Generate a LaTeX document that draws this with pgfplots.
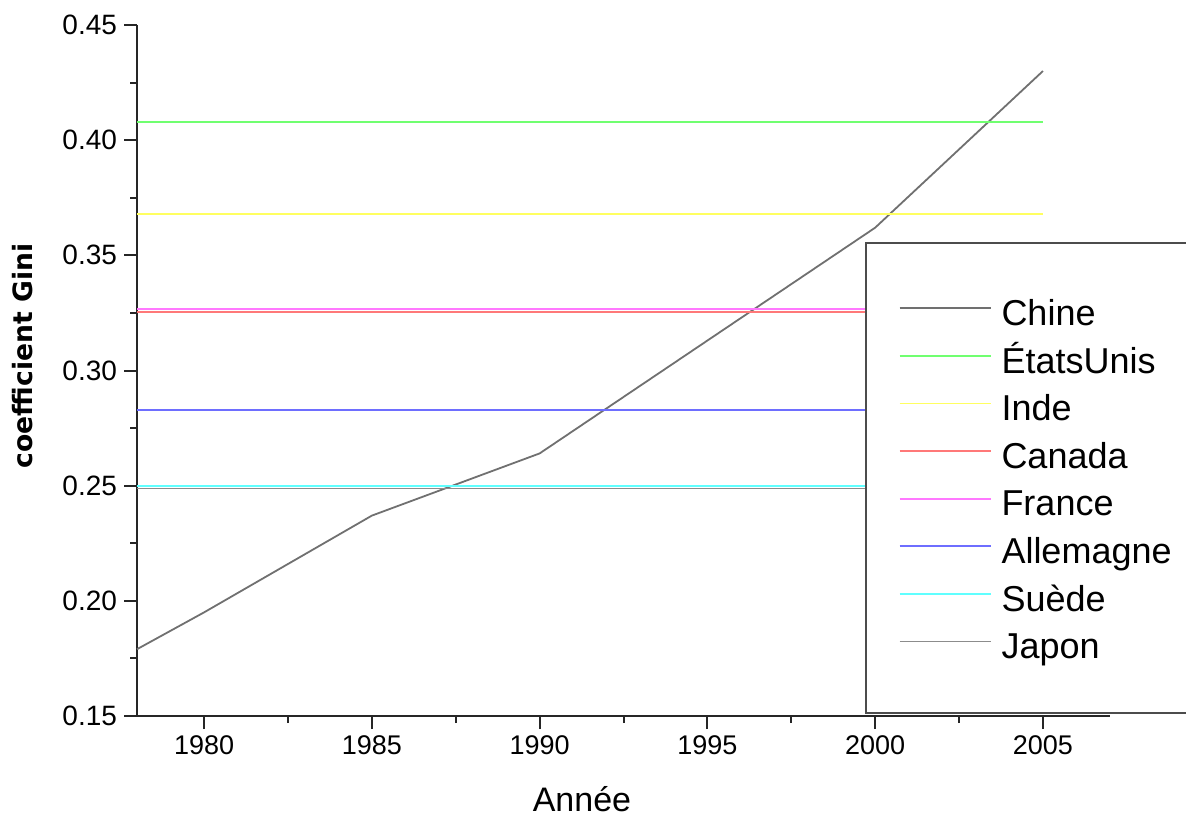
\documentclass[border=0pt]{standalone}
\usepackage{fontspec}
\setmainfont{Liberation Sans}
\newfontfamily\dejavu{DejaVu Sans}
\usepackage{pgfplots}
\pgfplotsset{compat=1.18}
\definecolor{cChine}{HTML}{707070}
\definecolor{cUS}{HTML}{70FF70}
\definecolor{cInde}{HTML}{FFFF60}
\definecolor{cCanada}{HTML}{FF7878}
\definecolor{cFrance}{HTML}{FF78FF}
\definecolor{cAll}{HTML}{6E6EFF}
\definecolor{cSuede}{HTML}{60FFFF}
\definecolor{cJapon}{HTML}{8C8C8C}
\begin{document}
\begin{tikzpicture}
\begin{axis}[
  at={(68.5pt,-358pt)}, anchor=south west,
  scale only axis, width=486.5pt, height=345.5pt,
  xmin=1978, xmax=2007, ymin=0.15, ymax=0.45,
  axis x line*=bottom, axis y line*=left,
  axis line style={line width=1.2pt, black!85},
  xtick={1980,1985,...,2005}, minor x tick num=1,
  ytick={0.15,0.20,...,0.45}, minor y tick num=1,
  tick align=outside, major tick length=6.5pt, minor tick length=3.5pt,
  every tick/.style={black!85, line width=1pt},
  /pgf/number format/assume math mode=true,
  xticklabel style={font=\fontsize{13.5}{15}\selectfont, /pgf/number format/1000 sep={}},
  yticklabel style={font=\fontsize{14}{16}\selectfont, /pgf/number format/fixed, /pgf/number format/fixed zerofill, /pgf/number format/precision=2},
  x tick label style={/pgf/number format/.cd, set thousands separator={}},
  xlabel={Année},
  xlabel style={at={(axis description cs:0.4573,-0.1389)}, anchor=base, font=\fontsize{17}{19}\selectfont},
  ylabel={\dejavu\bfseries coefficient Gini},
  ylabel style={at={(axis description cs:-0.1069,0.521)}, anchor=base, font=\fontsize{13.3}{15}\selectfont},
  clip=false,
  legend cell align=left,
  legend image code/.code={\draw[#1] (0pt,0.36em) -- (45.5pt,0.36em);},
  legend style={at={(axis cs:2000.69,0.3319)}, anchor=north west, draw=none, fill=none,
    inner sep=0pt, row sep=5.8pt, column sep=5pt,
    nodes={inner sep=0pt, text height=14pt, text depth=4pt},
    font=\fontsize{18}{22}\selectfont},
]
\addplot[cChine, line width=0.9pt] coordinates {(1978,0.179) (1980,0.195) (1985,0.237) (1990,0.264) (1995,0.313) (2000,0.362) (2005,0.430)};
\addlegendentry{Chine}
\addplot[cUS, line width=0.9pt] coordinates {(1978,0.408) (2005,0.408)};
\addlegendentry{ÉtatsUnis}
\addplot[cInde, line width=0.9pt] coordinates {(1978,0.368) (2005,0.368)};
\addlegendentry{Inde}
\addplot[cCanada, line width=0.9pt] coordinates {(1978,0.3255) (2005,0.3255)};
\addlegendentry{Canada}
\addplot[cFrance, line width=0.9pt] coordinates {(1978,0.3268) (2005,0.3268)};
\addlegendentry{France}
\addplot[cAll, line width=0.9pt] coordinates {(1978,0.283) (2005,0.283)};
\addlegendentry{Allemagne}
\addplot[cSuede, line width=0.9pt] coordinates {(1978,0.2500) (2005,0.2500)};
\addlegendentry{Suède}
\addplot[cJapon, line width=0.9pt] coordinates {(1978,0.2488) (2005,0.2488)};
\addlegendentry{Japon}
\draw[fill=white, draw=black!70, line width=1pt] (axis cs:1999.73,0.1513) rectangle (axis cs:2012,0.3553);
\end{axis}
\pgfresetboundingbox
\useasboundingbox (0,0) rectangle (593pt,-408.5pt);
\end{tikzpicture}
\end{document}
